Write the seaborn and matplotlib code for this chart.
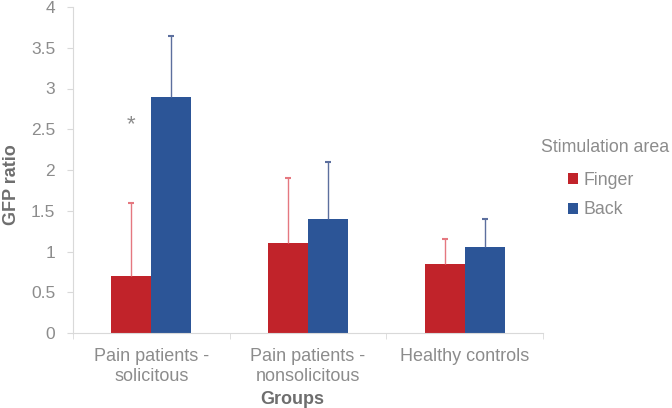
import pandas
import seaborn as sns
import matplotlib.pyplot as plt
import numpy as np

groups = ['Pain patients -\nsolicitous', 'Pain patients -\nnonsolicitous', 'Healthy controls']
areas = ['Finger', 'Back']
finger_vals = [0.7, 1.1, 0.85]
back_vals = [2.9, 1.4, 1.05]
finger_err = [0.9, 0.8, 0.3]
back_err = [0.75, 0.7, 0.35]

colors = {'Finger': '#C1232A', 'Back': '#2C5597'}
err_colors = {'Finger': '#E57880', 'Back': '#5C6F9E'}
grey = '#8C8C8C'

sns.set_style('white')
plt.rcParams['font.family'] = ['Liberation Sans', 'DejaVu Sans']

df = pandas.DataFrame({
    'group': groups * 2,
    'area': ['Finger'] * 3 + ['Back'] * 3,
    'ratio': finger_vals + back_vals,
    'err': finger_err + back_err,
})

f = plt.figure(figsize=(6.72, 4.08), dpi=100)
ax = f.add_axes([73 / 672, 75 / 408, 470 / 672, 326 / 408])
sns.barplot(data=df, x='group', y='ratio', hue='area', hue_order=areas, order=groups,
            palette=colors, width=0.51, errorbar=None, saturation=1, ax=ax, linewidth=0,
            legend=True)

# upper-only error bars at bar centres
for cont, area in zip(ax.containers, areas):
    sub = df[df['area'] == area].set_index('group').loc[groups]
    xs = [p.get_x() + p.get_width() / 2 for p in cont.patches]
    _, caps, _ = ax.errorbar(xs, sub['ratio'], yerr=[np.zeros(3), sub['err']], fmt='none',
                             ecolor=err_colors[area], elinewidth=1, capsize=2.5, capthick=1.5)
    caps[0].set_visible(False)

ax.text(-0.13, 2.55, '*', ha='center', va='center', fontsize=16, color=grey)

ax.set_ylim(0, 4)
ax.set_xlim(-0.5, 2.5)
ax.set_yticks(np.arange(0, 4.01, 0.5))
ax.set_yticklabels(['{:g}'.format(v) for v in np.arange(0, 4.01, 0.5)])
ax.set_xticks([-0.5, 0.5, 1.5, 2.5], minor=True)
ax.tick_params(axis='x', which='major', length=0, labelsize=13, labelcolor=grey, pad=11)
ax.tick_params(axis='x', which='minor', length=4.3, color='#D9D9D9', direction='out', bottom=True)
ax.tick_params(axis='y', length=4.3, color='#D9D9D9', direction='out', left=True,
               labelsize=12.5, labelcolor=grey, pad=8.5)
for s in ('top', 'right'):
    ax.spines[s].set_visible(False)
for s in ('left', 'bottom'):
    ax.spines[s].set_color('#D9D9D9')

ax.set_ylabel('GFP ratio', fontsize=13, fontweight='bold', color='#6E6E6E')
ax.yaxis.set_label_coords(-0.112, 0.454)
ax.set_xlabel('Groups', fontsize=13, fontweight='bold', color='#6E6E6E')
ax.xaxis.set_label_coords(0.466, -0.178)

f.text(541 / 672, 1 - 147 / 408, 'Stimulation area', fontsize=12.75, color=grey, ha='left', va='center')
leg = ax.legend(loc='upper left', bbox_to_anchor=(568 / 672, 1 - 172 / 408), bbox_transform=f.transFigure,
                frameon=False, fontsize=12.75, handlelength=0.56, handleheight=0.56,
                handletextpad=0.3, labelspacing=0.7, borderpad=0, borderaxespad=0)
for t in leg.get_texts():
    t.set_color(grey)

f.savefig('out.png', dpi=100)
